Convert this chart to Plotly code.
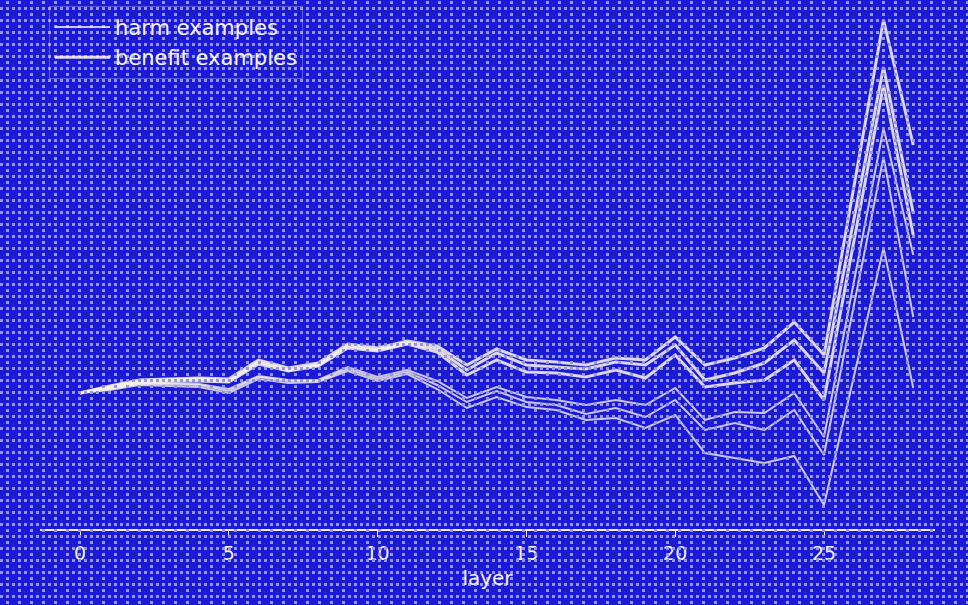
import base64
import plotly.graph_objects as go

layers = list(range(29))

harm_a = [0, 0.05, 0.10, 0.10, 0.09, 0.04, 0.17, 0.13, 0.13, 0.26, 0.16, 0.23, 0.12, -0.05, 0.06, -0.04, -0.07, -0.12, -0.07, -0.12, 0.05, -0.27, -0.19, -0.20, 0.00, -0.44, 1.10, 2.65, 1.38]
harm_b = [0, 0.04, 0.09, 0.09, 0.08, 0.02, 0.16, 0.12, 0.12, 0.24, 0.14, 0.21, 0.08, -0.09, 0.02, -0.09, -0.12, -0.21, -0.15, -0.24, -0.07, -0.37, -0.30, -0.37, -0.17, -0.62, 0.87, 2.36, 0.76]
harm_c = [0, 0.03, 0.08, 0.07, 0.06, 0.00, 0.14, 0.10, 0.11, 0.22, 0.12, 0.19, 0.04, -0.15, -0.04, -0.14, -0.17, -0.27, -0.25, -0.35, -0.22, -0.60, -0.65, -0.70, -0.63, -1.12, 0.16, 1.45, 0.05]

benefit_a = [0, 0.07, 0.13, 0.14, 0.15, 0.14, 0.33, 0.25, 0.30, 0.49, 0.45, 0.52, 0.47, 0.28, 0.44, 0.33, 0.31, 0.28, 0.35, 0.33, 0.56, 0.28, 0.35, 0.45, 0.71, 0.38, 2.05, 3.73, 2.48]
benefit_b = [0, 0.06, 0.12, 0.13, 0.14, 0.12, 0.31, 0.23, 0.28, 0.47, 0.43, 0.50, 0.44, 0.23, 0.40, 0.28, 0.26, 0.24, 0.31, 0.28, 0.48, 0.13, 0.20, 0.30, 0.53, 0.20, 1.73, 3.26, 1.80]
benefit_c = [0, 0.05, 0.11, 0.12, 0.12, 0.11, 0.29, 0.22, 0.27, 0.45, 0.42, 0.49, 0.41, 0.18, 0.33, 0.21, 0.20, 0.16, 0.23, 0.15, 0.38, 0.06, 0.10, 0.13, 0.33, -0.07, 1.51, 3.08, 1.58]

harm_series = [harm_a, harm_b, harm_c]
benefit_series = [benefit_a, benefit_b, benefit_c]
x_ticks = [0, 5, 10, 15, 20, 25]

BG = "#1b1bd6"
FG = "#f7f1e3"
LINE_HARM = "rgba(247,241,227,0.8)"
LINE_BEN = "rgba(247,241,227,0.88)"
FONT = "DejaVu Sans"

fig = go.Figure()
for i, s in enumerate(harm_series):
    fig.add_trace(go.Scatter(x=layers, y=s, mode="lines", name="harm examples",
                             line=dict(color=LINE_HARM, width=2),
                             legendgroup="harm", showlegend=(i == 0)))
for i, s in enumerate(benefit_series):
    fig.add_trace(go.Scatter(x=layers, y=s, mode="lines", name="benefit examples",
                             line=dict(color=LINE_BEN, width=3),
                             legendgroup="benefit", showlegend=(i == 0)))

# dotted overlay pattern covering the whole page
W, H = 968, 605
svg = (f'<svg xmlns="http://www.w3.org/2000/svg" width="{W}" height="{H}">'
       '<defs><pattern id="p" width="12" height="12" patternUnits="userSpaceOnUse">'
       '<rect x="6" y="1" width="3" height="3" fill="#9898e0"/>'
       '<rect x="0" y="7" width="3" height="3" fill="#9898e0"/>'
       '<rect x="6" y="7" width="3" height="3" fill="#9898e0"/>'
       '</pattern></defs>'
       f'<rect width="{W}" height="{H}" fill="url(#p)"/></svg>')
src = "data:image/svg+xml;base64," + base64.b64encode(svg.encode()).decode()

ml, mr, mt, mb = 40, 33, 0, 76
pw, ph = W - ml - mr, H - mt - mb

fig.update_layout(
    width=W, height=H,
    margin=dict(l=ml, r=mr, t=mt, b=mb, pad=0, autoexpand=False),
    paper_bgcolor=BG, plot_bgcolor=BG,
    font=dict(family=FONT, color=FG, size=18),
    showlegend=True,
    legend=dict(x=0.01, y=0.989, xanchor="left", yanchor="top",
                bgcolor="rgba(0,0,0,0)", bordercolor="rgba(247,241,227,0.3)",
                borderwidth=1, font=dict(size=21, color=FG, family=FONT),
                itemwidth=55, tracegroupgap=0),
    xaxis=dict(range=[-1.344, 28.73], tickvals=x_ticks, showgrid=False, zeroline=False,
               showline=True, linecolor=FG, linewidth=1.5, ticks="outside",
               ticklen=6, tickcolor=FG, tickwidth=1, tickfont=dict(size=19, color=FG),
               title=dict(text="layer", font=dict(size=20, color=FG), standoff=8)),
    yaxis=dict(range=[-1.36, 3.93], visible=False, showgrid=False, zeroline=False),
    images=[dict(source=src, xref="paper", yref="paper",
                 x=-ml / pw, y=1 + mt / ph, sizex=W / pw, sizey=H / ph,
                 xanchor="left", yanchor="top", sizing="stretch", layer="above")],
)

fig.write_html("out.html")
